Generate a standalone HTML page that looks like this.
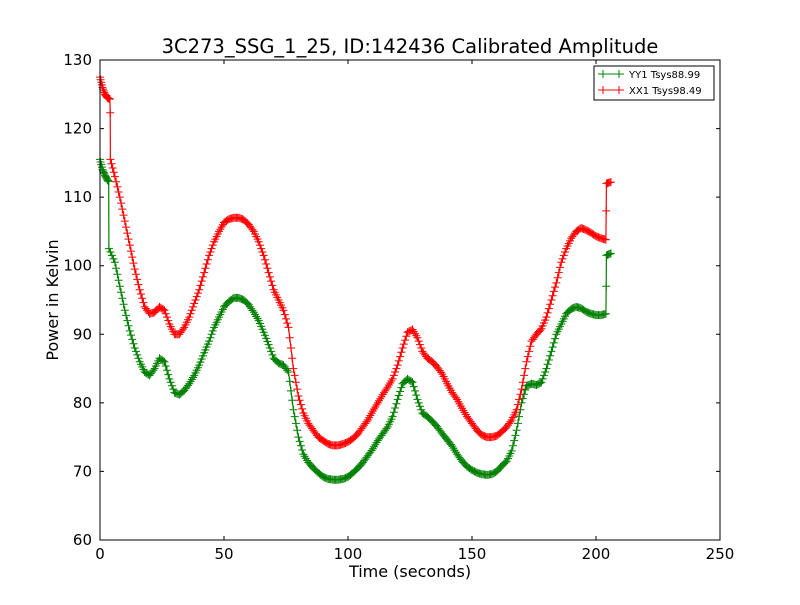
<!DOCTYPE html>
<html><head><meta charset="utf-8"><style>
body{margin:0;background:#fff;}
text{font-family:"DejaVu Sans","Liberation Sans",sans-serif;}
</style></head><body>
<svg id="chart" width="800" height="600" xmlns="http://www.w3.org/2000/svg">
<rect width="800" height="600" fill="#fff"/>
<g id="plot"></g>
</svg>
<script>
const xTicks=[0,50,100,150,200,250];
const yTicks=[60,70,80,90,100,110,120,130];
const xxTimes=[0,1,2,3,4,4.1,4.2,6,8,10,12,14,16,18,20,22,24,26,28,30,32,34,36,38,40,42,44,46,48,50,52,54,56,58,60,62,64,66,68,70,72,74,76,78,80,82,84,86,88,90,92,94,96,98,100,102,104,106,108,110,112,114,116,118,120,122,124,126,128,130,132,134,136,138,140,142,144,146,148,150,152,154,156,158,160,162,164,166,168,170,172,174,176,178,180,182,184,186,188,190,192,194,196,198,200,202,204,204.1,204.2,206];
const xxValues=[127.5,126,125,124.5,124.3,122.3,115.5,113,110,106.5,103,99.5,96.5,94,93,93.2,94,93.5,91.5,90,90,91,92.5,94.5,96.5,99,101.5,103.5,105,106.3,106.8,107,107,106.7,106,105,103.5,101.5,99,96.5,95,93.5,91,85,81,78.5,77,76,75,74.5,74,73.8,73.8,74,74.3,74.8,75.5,76.5,77.5,78.8,80,81.2,82.3,83.5,85.5,88,90.3,90.7,89.5,87.5,86.5,86,85.2,84.2,82.8,81.5,80.5,79.2,78,77,76,75.3,75,75,75.2,75.8,76.5,77.5,79,82,86,89,90,90.8,92.5,95,97.5,100.5,102.5,104,105,105.5,105.2,104.8,104.3,104,103.8,108,112,112.2];
const yyTimes=[0,1,2,3,3.5,3.6,6,8,10,12,14,16,18,20,22,24,26,28,30,32,34,36,38,40,42,44,46,48,50,52,54,56,58,60,62,64,66,68,70,72,74,76,78,80,82,84,86,88,90,92,94,96,98,100,102,104,106,108,110,112,114,116,118,120,122,124,126,128,130,132,134,136,138,140,142,144,146,148,150,152,154,156,158,160,162,164,166,168,170,172,174,176,178,180,182,184,186,188,190,192,194,196,198,200,202,204,204.1,204.2,206];
const yyValues=[115.5,114,113.2,112.5,112.3,102.5,100.5,97,93.5,90.5,88,86,84.5,84,85,86.5,86,83.5,81.5,81.2,81.8,82.8,84,85.5,87.3,89,91,92.5,94,94.8,95.3,95.3,95,94.3,93.2,92,90.3,88.5,86.5,85.8,85.5,84.5,79,75,72.5,71.3,70.5,69.8,69.2,68.9,68.8,68.8,68.9,69.2,69.8,70.5,71.3,72.3,73.3,74.5,75.5,76.5,78,80.5,82.8,83.5,83,80.5,78.5,78,77.3,76.5,75.5,74.6,73.7,72.5,71.5,70.7,70.2,69.8,69.6,69.5,69.6,70,70.8,71.5,73,76,80,82.5,82.8,82.6,83,85,87.5,90,91.5,93,93.7,94,93.8,93.3,93,92.8,92.8,93,97,101.5,101.8];

const L=100,R=720,T=60,B=540;
const xs=v=>L+(v-0)/(250-0)*(R-L);
const ys=v=>B-(v-60)/(130-60)*(B-T);
const NS="http://www.w3.org/2000/svg";
const g=document.getElementById('plot');
function mk(tag,attrs,parent){const e=document.createElementNS(NS,tag);for(const k in attrs)e.setAttribute(k,attrs[k]);(parent||g).appendChild(e);return e;}

function series(times,vals,color,name){
  const sg=mk('g',{});
  
  
  let d='';
  times.forEach((t,i)=>{d+=(i?'L':'M')+xs(t).toFixed(1)+','+ys(vals[i]).toFixed(1);});
  const p=mk('path',{d:d,fill:'none',stroke:color,'stroke-width':1.2},sg);
  
  
  let m='';
  const plus=(x,y)=>{m+=`M${(x-4).toFixed(1)},${y.toFixed(1)}h8M${x.toFixed(1)},${(y-4).toFixed(1)}v8`;};
  times.forEach((t,i)=>{const x=xs(t),y=ys(vals[i]);plus(x,y);
    if(i<times.length-1){const x2=xs(times[i+1]),y2=ys(vals[i+1]);
      if(Math.abs(x2-x)<1) return;
      for(let k=1;k<4;k++){plus(x+(x2-x)*k/4,y+(y2-y)*k/4);}}});
  const mp=mk('path',{d:m,fill:'none',stroke:color,'stroke-width':1},sg);
  
  
}
series(yyTimes,yyValues,'#008000','yy1-series');
series(xxTimes,xxValues,'#ff0000','xx1-series');

const fr=mk('rect',{x:L,y:T,width:R-L,height:B-T,fill:'none',stroke:'#000','stroke-width':1});


xTicks.forEach(v=>{const x=xs(v);
  mk('path',{d:`M${x},${B}v-4M${x},${T}v4`,stroke:'#000'});
  const t=mk('text',{x:x,y:B+19,'text-anchor':'middle','font-size':15});t.textContent=v;
  
  
});
yTicks.forEach(v=>{const y=ys(v);
  mk('path',{d:`M${L},${y}h4M${R},${y}h-4`,stroke:'#000'});
  const t=mk('text',{x:L-8,y:y+5,'text-anchor':'end','font-size':15});t.textContent=v;
  
  
});
</script>
<svg style="position:absolute;left:0;top:0" width="800" height="600" xmlns="http://www.w3.org/2000/svg">
<text x="410" y="53" text-anchor="middle" font-size="19.5">3C273_SSG_1_25, ID:142436 Calibrated Amplitude</text>
<text x="410" y="577" text-anchor="middle" font-size="16">Time (seconds)</text>
<text transform="translate(58,300) rotate(-90)" text-anchor="middle" font-size="16">Power in Kelvin</text>
<g>
<rect x="594" y="66" width="120" height="34" fill="#fff" stroke="#000"/>
<g><path d="M598,74h26M603,70v8M619,70v8" stroke="#008000"/><text x="629" y="78" font-size="10">YY1 Tsys88.99</text></g>
<g><path d="M598,90h26M603,86v8M619,86v8" stroke="#ff0000"/><text x="629" y="94" font-size="10">XX1 Tsys98.49</text></g>
</g>
</svg>
</body></html>
